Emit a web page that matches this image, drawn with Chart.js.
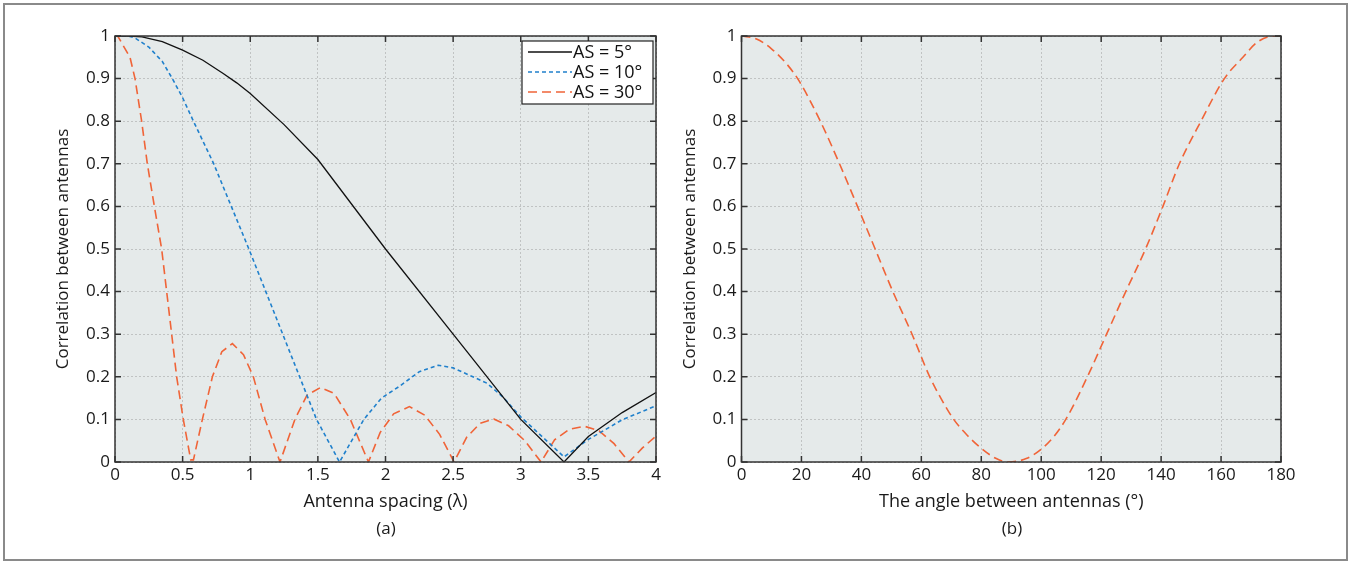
<!DOCTYPE html>
<html>
<head>
<meta charset="utf-8">
<script src="https://cdn.jsdelivr.net/npm/chart.js@4.4.1/dist/chart.umd.min.js"></script>
<style>
  html, body { margin: 0; padding: 0; background: #fff; }
  body { position: relative; width: 1361px; height: 563px; overflow: hidden; font-family: "Open Sans", sans-serif; }
  #frame { position: absolute; left: 3px; top: 3px; width: 1345px; height: 558px; border: 2px solid #8a8a8a; box-sizing: border-box; }
  #chartA { position: absolute; left: 0; top: 0; }
  #chartB { position: absolute; left: 665px; top: 0; }
  .caption { position: absolute; top: 517px; font-size: 17px; line-height: 22px; color: #1a1a1a; transform: translateX(-50%); }
</style>
</head>
<body>
<div id="frame"></div>
<canvas id="chartA" width="665" height="563"></canvas>
<canvas id="chartB" width="696" height="563"></canvas>
<div class="caption" style="left:386px">(a)</div>
<div class="caption" style="left:1012px">(b)</div>

<script>
// =========================
// DATA
// =========================

// panel (a): correlation vs antenna spacing (in wavelengths)
const as5X  = [0, 0.1, 0.2, 0.35, 0.5, 0.65, 0.8, 0.9, 1.0, 1.25, 1.5, 2.0, 2.5, 3.0, 3.32, 3.5, 3.75, 4.0];
const as5Y  = [1, 1, 0.998, 0.987, 0.967, 0.943, 0.912, 0.89, 0.865, 0.792, 0.71, 0.5, 0.3, 0.1, 0, 0.06, 0.116, 0.163];

const as10X = [0, 0.1, 0.15, 0.25, 0.35, 0.424, 0.5, 0.58, 0.73, 0.86, 0.99, 1.115, 1.24, 1.365, 1.49, 1.66,
               1.84, 1.97, 2.1, 2.25, 2.39, 2.5, 2.75, 2.87, 3.0, 3.15, 3.32, 3.5, 3.75, 4.0];
const as10Y = [1, 1, 0.995, 0.974, 0.94, 0.9, 0.855, 0.8, 0.7, 0.6, 0.5, 0.4, 0.3, 0.2, 0.1, 0,
               0.1, 0.15, 0.177, 0.212, 0.227, 0.221, 0.185, 0.152, 0.106, 0.062, 0.012, 0.053, 0.099, 0.132];

const as30X = [0, 0.02, 0.111, 0.148, 0.197, 0.239, 0.291, 0.345, 0.382, 0.419, 0.456, 0.505, 0.56, 0.58,
               0.646, 0.72, 0.79, 0.868, 0.95, 1.023, 1.11, 1.22,
               1.33, 1.42, 1.52, 1.62, 1.74, 1.874,
               1.96, 2.06, 2.177, 2.29, 2.4, 2.507,
               2.6, 2.7, 2.8, 2.91, 3.03, 3.15,
               3.25, 3.36, 3.47, 3.58, 3.69, 3.8,
               3.9, 4.0];
const as30Y = [1, 1, 0.95, 0.9, 0.8, 0.7, 0.6, 0.5, 0.4, 0.3, 0.2, 0.1, 0.005, 0.005,
               0.1, 0.2, 0.259, 0.278, 0.252, 0.2, 0.1, 0,
               0.1, 0.157, 0.175, 0.161, 0.1, 0,
               0.069, 0.113, 0.13, 0.11, 0.065, 0,
               0.058, 0.091, 0.101, 0.085, 0.05, 0,
               0.052, 0.077, 0.084, 0.073, 0.043, 0,
               0.033, 0.061];

// panel (b): correlation vs angle between antennas (degrees)
const angleX = [0, 5, 10, 15, 19, 26.3, 32.7, 38.7, 44.6, 50.5, 56.9, 62.8, 66.5, 70.8, 75, 80, 85, 89,
                95, 100, 104, 108.2, 115.4, 121.8, 128.2, 134.8, 140.6, 146.1, 153.3, 161.1, 167.3, 172, 177.8, 180];
const angleY = [1, 0.993, 0.97, 0.935, 0.897, 0.8, 0.7, 0.6, 0.5, 0.4, 0.3, 0.2, 0.15, 0.1, 0.065, 0.032, 0.008, 0,
                0.008, 0.03, 0.058, 0.1, 0.2, 0.3, 0.4, 0.5, 0.6, 0.7, 0.8, 0.9, 0.95, 0.985, 1, 1];

// axis ticks
const spacingTicks  = [0, 0.5, 1, 1.5, 2, 2.5, 3, 3.5, 4];
const spacingLabels = ["0", "0.5", "1", "1.5", "2", "2.5", "3", "3.5", "4"];
const angleTicks    = [0, 20, 40, 60, 80, 100, 120, 140, 160, 180];
const angleLabels   = ["0", "20", "40", "60", "80", "100", "120", "140", "160", "180"];
const corrTicks     = [0, 0.1, 0.2, 0.3, 0.4, 0.5, 0.6, 0.7, 0.8, 0.9, 1];
const corrLabels    = ["0", "0.1", "0.2", "0.3", "0.4", "0.5", "0.6", "0.7", "0.8", "0.9", "1"];

const seriesLabels = ["AS = 5°", "AS = 10°", "AS = 30°"];

const BLACK  = "#111111";
const BLUE   = "rgb(32,128,204)";
const ORANGE = "rgb(240,100,56)";

const toPoints = (xs, ys) => xs.map((x, i) => ({ x: x, y: ys[i] }));

// =========================
// SHARED PLUGINS
// =========================

Chart.defaults.font.family = "'Open Sans', sans-serif";
Chart.defaults.font.size = 17;
Chart.defaults.color = "#1a1a1a";

// grey plot background, framed box and inward ticks on all four sides
const panelFrame = {
    id: "panelFrame",
    beforeDraw(chart) {
        const { ctx, chartArea: a } = chart;
        ctx.save();
        ctx.fillStyle = "#e5eaea";
        ctx.fillRect(a.left, a.top, a.width, a.height);
        ctx.restore();
    },
    afterDatasetsDraw(chart) {
        const { ctx, chartArea: a, scales } = chart;
        const len = 6;
        ctx.save();
        ctx.strokeStyle = "#333";
        ctx.lineWidth = 1.5;
        ctx.beginPath();
        scales.x.ticks.forEach(t => {
            const px = scales.x.getPixelForValue(t.value);
            ctx.moveTo(px, a.bottom); ctx.lineTo(px, a.bottom - len);
            ctx.moveTo(px, a.top);    ctx.lineTo(px, a.top + len);
        });
        scales.y.ticks.forEach(t => {
            const py = scales.y.getPixelForValue(t.value);
            ctx.moveTo(a.left, py);  ctx.lineTo(a.left + len, py);
            ctx.moveTo(a.right, py); ctx.lineTo(a.right - len, py);
        });
        ctx.stroke();
        ctx.strokeRect(a.left, a.top, a.width, a.height);
        ctx.restore();
    }
};

// boxed legend in the upper right corner of the plot
const boxLegend = {
    id: "boxLegend",
    afterDraw(chart) {
        const { ctx, chartArea: a } = chart;
        const w = 131, h = 63;
        const x0 = a.right - 3 - w, y0 = a.top + 5;
        ctx.save();
        ctx.fillStyle = "#fff";
        ctx.fillRect(x0, y0, w, h);
        ctx.strokeStyle = "#222";
        ctx.lineWidth = 1.2;
        ctx.strokeRect(x0, y0, w, h);
        ctx.font = "18px 'Open Sans', sans-serif";
        ctx.textBaseline = "middle";
        ctx.fillStyle = "#111";
        chart.data.datasets.forEach((ds, i) => {
            const y = y0 + 11 + i * 20;
            ctx.beginPath();
            ctx.strokeStyle = ds.borderColor;
            ctx.lineWidth = ds.borderWidth;
            ctx.setLineDash(ds.borderDash || []);
            ctx.moveTo(x0 + 6, y);
            ctx.lineTo(x0 + 50, y);
            ctx.stroke();
            ctx.setLineDash([]);
            ctx.fillText(ds.label, x0 + 51, y + 1);
        });
        ctx.restore();
    }
};

function axisX(min, max, ticks, labels, title) {
    return {
        type: "linear",
        min: min,
        max: max,
        afterBuildTicks: s => { s.ticks = ticks.map(v => ({ value: v })); },
        afterFit: s => { s.height = 101; },
        ticks: {
            padding: 3,
            autoSkip: false,
            maxRotation: 0,
            callback: (v, i) => labels[i]
        },
        grid: { color: "#c0c3c3", lineWidth: 1, drawTicks: false },
        border: { display: false, dash: [2, 2] },
        title: {
            display: true,
            text: title,
            font: { size: 18 },
            padding: { top: 0, bottom: 50.2 }
        }
    };
}

function axisY(width, titlePad) {
    return {
        type: "linear",
        min: 0,
        max: 1,
        afterBuildTicks: s => { s.ticks = corrTicks.map(v => ({ value: v })); },
        afterFit: s => { s.width = width; },
        ticks: {
            padding: 5,
            autoSkip: false,
            callback: (v, i) => corrLabels[i]
        },
        grid: { color: "#c0c3c3", lineWidth: 1, drawTicks: false },
        border: { display: false, dash: [2, 2] },
        title: {
            display: true,
            text: "Correlation between antennas",
            font: { size: 17 },
            padding: { top: titlePad, bottom: 0 }
        }
    };
}

const baseOptions = {
    responsive: false,
    animation: false,
    events: [],
    plugins: {
        legend: { display: false },
        tooltip: { enabled: false }
    },
    elements: { point: { radius: 0 } }
};

// =========================
// PANEL (a)
// =========================

new Chart(document.getElementById("chartA").getContext("2d"), {
    type: "line",
    data: {
        datasets: [
            {
                label: seriesLabels[0],
                data: toPoints(as5X, as5Y),
                borderColor: BLACK,
                borderWidth: 1.3,
                tension: 0
            },
            {
                label: seriesLabels[1],
                data: toPoints(as10X, as10Y),
                borderColor: BLUE,
                borderWidth: 1.6,
                borderDash: [4, 3],
                tension: 0
            },
            {
                label: seriesLabels[2],
                data: toPoints(as30X, as30Y),
                borderColor: ORANGE,
                borderWidth: 1.6,
                borderDash: [9, 5],
                tension: 0
            }
        ]
    },
    options: Object.assign({}, baseOptions, {
        layout: { padding: { left: 0, top: 36, right: 9, bottom: 0 } },
        scales: {
            x: axisX(0, 4, spacingTicks, spacingLabels, "Antenna spacing (λ)"),
            y: axisY(115, 52.8)
        }
    }),
    plugins: [panelFrame, boxLegend]
});

// =========================
// PANEL (b)
// =========================

new Chart(document.getElementById("chartB").getContext("2d"), {
    type: "line",
    data: {
        datasets: [{
            label: "Correlation",
            data: toPoints(angleX, angleY),
            borderColor: ORANGE,
            borderWidth: 1.6,
            borderDash: [9, 5],
            cubicInterpolationMode: "monotone"
        }]
    },
    options: Object.assign({}, baseOptions, {
        layout: { padding: { left: 0, top: 36, right: 80, bottom: 0 } },
        scales: {
            x: axisX(0, 180, angleTicks, angleLabels, "The angle between antennas (°)"),
            y: axisY(76.5, 14.8)
        }
    }),
    plugins: [panelFrame]
});
</script>
</body>
</html>
